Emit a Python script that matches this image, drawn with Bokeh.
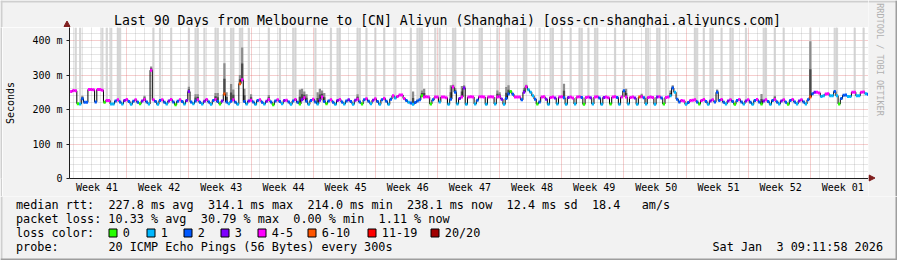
import re
import math
from bokeh.plotting import figure
from bokeh.layouts import column, row
from bokeh.models import ColumnDataSource, Range1d, FixedTicker
from bokeh.core.properties import value
from bokeh.embed import file_html
from bokeh.resources import INLINE

# ---------------- data ----------------
DAYS = 90
BIN_DAYS = 0.25          # 6-hour bins
FIRST_BIN_DAY = 0.2      # centre of first bin, days from left edge

# median RTT (ms), four 6-hour bins per day
median_by_day = [
    [252, 255, 254, 217], [216, 231, 221, 221], [258, 258, 257, 222], [258, 258, 256, 221],
    [226, 226, 216, 216], [225, 228, 222, 216], [226, 229, 223, 215], [224, 228, 221, 217],
    [225, 229, 222, 216], [314, 228, 223, 215], [226, 228, 221, 216], [225, 229, 222, 214],
    [224, 228, 223, 216], [226, 252, 222, 217], [225, 228, 221, 216], [224, 229, 222, 215],
    [226, 229, 223, 216], [225, 245, 222, 217], [224, 228, 221, 215], [275, 286, 223, 216],
    [225, 227, 222, 215], [226, 228, 221, 216], [224, 229, 222, 214], [225, 228, 223, 217],
    [226, 227, 222, 215], [225, 229, 221, 216], [228, 234, 224, 215], [226, 230, 222, 216],
    [227, 236, 223, 217], [225, 228, 221, 215], [226, 229, 222, 216], [225, 228, 223, 215],
    [227, 230, 222, 216], [228, 231, 224, 217], [227, 231, 223, 215], [228, 232, 224, 215],
    [230, 240, 233, 238], [242, 242, 232, 226], [221, 219, 215, 220], [225, 228, 240, 236],
    [237, 236, 216, 228], [236, 236, 222, 236], [236, 234, 215, 230], [265, 250, 216, 232],
    [236, 262, 215, 236], [237, 236, 216, 227], [237, 237, 236, 215], [236, 237, 236, 216],
    [236, 237, 230, 215], [232, 245, 252, 244], [236, 236, 236, 228], [250, 266, 257, 250],
    [240, 230, 216, 222], [236, 237, 230, 215], [235, 236, 233, 216], [236, 237, 234, 215],
    [235, 236, 233, 216], [236, 237, 235, 215], [235, 236, 234, 216], [236, 237, 233, 215],
    [235, 236, 234, 216], [236, 237, 235, 215], [236, 254, 236, 216], [235, 236, 233, 215],
    [236, 237, 234, 216], [235, 236, 235, 215], [236, 237, 233, 216], [235, 236, 240, 262],
    [250, 230, 222, 226], [225, 215, 220, 226], [227, 228, 222, 216], [226, 229, 223, 215],
    [225, 228, 222, 250], [226, 229, 221, 216], [225, 228, 223, 215], [226, 229, 222, 216],
    [225, 228, 221, 215], [226, 229, 222, 216], [225, 228, 223, 215], [226, 229, 222, 216],
    [225, 228, 221, 215], [226, 229, 222, 216], [225, 228, 222, 216], [228, 236, 246, 250],
    [250, 248, 238, 240], [245, 246, 240, 240], [252, 240, 216, 232], [241, 242, 238, 238],
    [250, 250, 240, 240], [250, 251, 246, 244],
]

# lost pings out of 20, same bins
lost_by_day = [
    [4, 4, 4, 0], [1, 2, 2, 2], [4, 4, 4, 2], [4, 4, 4, 0], [4, 4, 1, 1], [2, 4, 2, 1],
    [3, 4, 2, 1], [2, 4, 2, 0], [3, 4, 2, 1], [4, 4, 2, 1], [2, 4, 2, 1], [3, 4, 2, 0],
    [2, 4, 2, 1], [3, 3, 2, 1], [2, 4, 2, 1], [3, 4, 2, 1], [2, 4, 2, 0], [3, 7, 2, 1],
    [2, 4, 2, 1], [7, 4, 2, 1], [3, 4, 2, 1], [2, 4, 2, 1], [3, 4, 2, 0], [2, 4, 2, 1],
    [3, 4, 2, 1], [2, 4, 2, 0], [3, 4, 2, 1], [2, 4, 2, 1], [3, 4, 2, 0], [2, 4, 2, 1],
    [3, 4, 2, 1], [2, 3, 2, 1], [3, 4, 2, 0], [2, 4, 2, 1], [3, 4, 2, 1], [2, 4, 2, 1],
    [2, 4, 1, 4], [4, 4, 4, 2], [1, 2, 1, 2], [2, 2, 0, 4], [4, 4, 0, 2], [4, 4, 1, 4],
    [4, 4, 1, 2], [4, 2, 1, 3], [4, 3, 1, 4], [4, 4, 1, 2], [4, 4, 4, 1], [4, 4, 4, 1],
    [4, 4, 3, 1], [2, 2, 0, 2], [4, 4, 4, 2], [3, 4, 1, 1], [1, 2, 0, 2], [4, 4, 3, 1],
    [4, 4, 3, 1], [4, 4, 2, 1], [3, 4, 4, 1], [4, 4, 2, 0], [4, 4, 3, 1], [4, 4, 2, 1],
    [3, 4, 4, 0], [4, 4, 2, 1], [4, 2, 4, 1], [4, 4, 3, 1], [7, 4, 2, 1], [4, 4, 4, 1],
    [3, 4, 2, 0], [4, 4, 1, 2], [1, 2, 2, 4], [4, 1, 2, 4], [4, 4, 2, 0], [4, 4, 2, 1],
    [3, 4, 2, 2], [2, 4, 2, 1], [3, 4, 2, 0], [2, 4, 2, 1], [3, 4, 2, 1], [2, 4, 2, 0],
    [3, 4, 2, 1], [2, 4, 2, 1], [3, 4, 2, 0], [2, 4, 2, 1], [3, 4, 2, 1], [2, 7, 2, 3],
    [4, 4, 1, 1], [4, 4, 1, 1], [2, 1, 0, 2], [2, 2, 1, 1], [4, 4, 1, 1], [4, 4, 1, 2],
]

# bins whose slowest pings are above the top of the chart (light smoke to the top)
tall_smoke_bins = [2, 4, 14, 16, 18, 21, 22, 37, 40, 45, 53, 56, 57, 60, 65, 66, 69, 72, 73,
                   76, 77, 80, 89, 94, 100, 101, 110, 117, 120, 121, 129, 130, 133, 137, 141,
                   146, 153, 156, 157, 158, 164, 166, 172, 173, 177, 184, 185, 192, 196, 197,
                   204, 205, 211, 216, 217, 221, 225, 229, 230, 233, 236, 237, 245, 249, 259,
                   260, 264, 265, 268, 281, 282, 285, 288, 289, 293, 297, 298, 304, 312, 313,
                   317, 321, 333, 344, 345, 353, 357]

# bins with dense smoke above the median, and the top of that smoke (ms)
smoke_bins = [5, 33, 36, 53, 56, 57, 65, 66, 69, 70, 72, 73, 76, 77, 78, 81, 89, 103, 104, 105,
              106, 111, 112, 113, 114, 129, 154, 158, 159, 171, 172, 173, 176, 177, 192, 193,
              196, 197, 204, 205, 222, 250, 257, 270, 271, 291, 311, 317, 333]
smoke_top_ms = [240, 240, 325, 266, 244, 244, 248, 248, 334, 250, 274, 258, 300, 380, 260, 244,
                242, 258, 260, 252, 244, 250, 260, 255, 248, 244, 252, 255, 260, 270, 272, 262,
                268, 270, 255, 250, 265, 270, 262, 272, 275, 260, 246, 255, 270, 258, 245, 240,
                398]

week_labels = ["Week 41", "Week 42", "Week 43", "Week 44", "Week 45", "Week 46", "Week 47",
               "Week 48", "Week 49", "Week 50", "Week 51", "Week 52", "Week 01"]
FIRST_WEEK_LABEL_DAY = 3.1
FIRST_WEEK_START_DAY = 6.45
FIRST_DAY_LINE = 0.45

y_tick_values = [0, 100, 200, 300, 400]
y_tick_labels = ["0", "100 m", "200 m", "300 m", "400 m"]
Y_TOP = 437.7

loss_class_labels = ["0", "1", "2", "3", "4-5", "6-10", "11-19", "20/20"]
loss_class_upper = [0, 1, 2, 3, 5, 10, 19, 20]
loss_class_colors = ["#26ff00", "#00b8ff", "#0059ff", "#7e00ff", "#ff00ff", "#ff5500",
                     "#ff0000", "#a00000"]

title_text = "Last 90 Days from Melbourne to [CN] Aliyun (Shanghai) [oss-cn-shanghai.aliyuncs.com]"
stats_rows = [
    "median rtt:  227.8 ms avg  314.1 ms max  214.0 ms min  238.1 ms now  12.4 ms sd  18.4   am/s",
    "packet loss: 10.33 % avg  30.79 % max  0.00 % min  1.11 % now",
]
loss_row_head = "loss color:"
probe_row = "probe:       20 ICMP Echo Pings (56 Bytes) every 300s"
stamp_text = "Sat Jan  3 09:11:58 2026"
watermark_text = "RRDTOOL / TOBI OETIKER"

# ---------------- derived ----------------
median_ms = [v for day in median_by_day for v in day]
lost_pings = [v for day in lost_by_day for v in day]
assert len(median_ms) == len(lost_pings) == DAYS * 4
assert len(smoke_bins) == len(smoke_top_ms)


def loss_class(n):
    for k, up in enumerate(loss_class_upper):
        if n <= up:
            return k
    return len(loss_class_upper) - 1


t = [FIRST_BIN_DAY + BIN_DAYS * i for i in range(len(median_ms))]
main = ColumnDataSource(dict(
    t=t,
    x0=[v - BIN_DAYS / 2 for v in t],
    x1=[v + BIN_DAYS / 2 for v in t],
    m=median_ms,
    c=[loss_class_colors[loss_class(n)] for n in lost_pings],
))
tall = ColumnDataSource(dict(
    x=[t[b] for b in tall_smoke_bins],
    bottom=[median_ms[b] for b in tall_smoke_bins],
    top=[Y_TOP for _ in tall_smoke_bins],
))
smoke = ColumnDataSource(dict(
    x=[t[b] for b in smoke_bins],
    bottom=[median_ms[b] for b in smoke_bins],
    top=smoke_top_ms,
    mid=[(median_ms[b] + top) / 2 for b, top in zip(smoke_bins, smoke_top_ms)],
))

week_label_days = [round(FIRST_WEEK_LABEL_DAY + 7 * k, 3) for k in range(len(week_labels))]
week_start_days = [round(FIRST_WEEK_START_DAY + 7 * k, 3) for k in range(12)]
day_line_days = [round(FIRST_DAY_LINE + k, 3) for k in range(DAYS)
                 if round(FIRST_DAY_LINE + k, 3) not in week_start_days]

# ---------------- page layout (pixels) ----------------
W, H = 897, 260
FL, FT, FR, FB = 67, 27, 868, 178     # plot frame edges
XB = 196                              # bottom of the x-axis label band
FONT = "DejaVu Sans Mono"
BG = "#f2f2f2"
SHADE_A, SHADE_B = "#cfcfcf", "#9e9e9e"
ARROW = "#801f1f"
AXIS = "#1f1f1f"


def pixel_fig(x0, x1, y0, y1):
    """A figure whose frame is the whole box, in page pixel coordinates (y down)."""
    f = figure(width=x1 - x0, height=y1 - y0, output_backend="svg", toolbar_location=None,
               x_range=Range1d(x0, x1), y_range=Range1d(y1, y0),
               x_axis_location=None, y_axis_location=None, min_border=0)
    f.xgrid.visible = False
    f.ygrid.visible = False
    f.background_fill_color = BG
    f.border_fill_color = BG
    f.outline_line_color = None
    return f


def texts(f, xs, ys, strs, size, align="left", color="#000000", angle=0.0):
    # y is the visual middle of the text line
    f.text(x=xs, y=ys, text=strs, text_font=value(FONT), text_font_size=value(size),
           text_align=align, text_baseline="middle", text_color=color, angle=angle)


# ---- main chart ----
p = figure(width=FR - 2, height=XB - FT, output_backend="svg", toolbar_location=None,
           x_range=Range1d(0, DAYS), y_range=Range1d(0, Y_TOP),
           min_border_left=FL - 2, min_border_right=0, min_border_top=0,
           min_border_bottom=XB - FB)
p.border_fill_color = BG
p.background_fill_color = "#ffffff"
p.outline_line_color = None

xa = p.xaxis[0]
xa.ticker = FixedTicker(ticks=week_label_days)
xa.major_label_overrides = {d: lab for d, lab in zip(week_label_days, week_labels)}
xa.axis_line_color = AXIS
xa.major_tick_line_color = None
xa.minor_tick_line_color = None
xa.major_tick_out = 0
xa.major_tick_in = 0
xa.major_label_standoff = 3
xa.major_label_text_font = FONT
xa.major_label_text_font_size = "10px"
xa.major_label_text_color = "#000000"

ya = p.yaxis[0]
ya.ticker = FixedTicker(ticks=y_tick_values)
ya.major_label_overrides = {v: lab for v, lab in zip(y_tick_values, y_tick_labels)}
ya.axis_line_color = AXIS
ya.minor_tick_line_color = None
ya.major_tick_line_color = AXIS
ya.major_tick_out = 3
ya.major_tick_in = 0
ya.major_label_standoff = 4
ya.major_label_text_font = FONT
ya.major_label_text_font_size = "10px"
ya.major_label_text_color = "#000000"
ya.axis_label = "Seconds"
ya.axis_label_text_font = FONT
ya.axis_label_text_font_size = "10px"
ya.axis_label_text_font_style = "normal"
ya.axis_label_text_color = "#000000"
ya.axis_label_standoff = 13

p.xgrid.ticker = FixedTicker(ticks=week_start_days, minor_ticks=day_line_days)
p.ygrid.ticker = FixedTicker(ticks=[v for v in y_tick_values if v > 0],
                             minor_ticks=[v for v in range(20, 440, 20) if v % 100])
for g in (p.xgrid[0], p.ygrid[0]):
    g.grid_line_color = "#de4f4f"
    g.grid_line_alpha = 0.55
    g.grid_line_dash = "1 1"
    g.minor_grid_line_color = "#8f8f8f"
    g.minor_grid_line_alpha = 0.45
    g.minor_grid_line_dash = "1 1"

# smoke
p.vbar(x="x", width=BIN_DAYS, bottom="bottom", top="top", source=tall,
       fill_color="#cfcfcf", fill_alpha=0.85, line_color=None)
p.vbar(x="x", width=BIN_DAYS, bottom="bottom", top="top", source=smoke,
       fill_color="#8c8c8c", line_color=None)
p.vbar(x="x", width=BIN_DAYS, bottom="bottom", top="mid", source=smoke,
       fill_color="#4a4a4a", line_color=None)

# median line: black joins + loss-coloured pieces
p.step(x="t", y="m", mode="center", source=main, line_color="#000000", line_width=1)
p.segment(x0="x0", y0="m", x1="x1", y1="m", source=main, line_color="c", line_width=3)

# ---- top band (title, y-axis arrow) ----
top = pixel_fig(0, FR, 0, FT)
top.quad(left=[0, 0], right=[FR, 2], top=[0, 0], bottom=[2, FT], fill_color=SHADE_A,
         line_color=None)
texts(top, [447], [19.6], [title_text], "13.2px", align="center")
top.segment(x0=[FL - 0.5], y0=[FT], x1=[FL - 0.5], y1=[22], line_color=AXIS, line_width=1)
top.patch(x=[FL - 3.5, FL + 2.5, FL - 0.5], y=[26, 26, 20.5], fill_color=ARROW,
          line_color=ARROW)

# ---- thin left strip beside the chart ----
left = pixel_fig(0, 2, FT, XB)
left.background_fill_color = SHADE_A
left.border_fill_color = SHADE_A

# ---- right column (watermark, x-axis arrow) ----
right = pixel_fig(FR, W, 0, XB)
right.quad(left=[FR, W - 2], right=[W, W], top=[0, 0], bottom=[2, XB],
           fill_color=[SHADE_A, SHADE_B], line_color=None)
texts(right, [879], [59], [watermark_text], "8.5px", align="center",
      color="#b0b0b0", angle=-math.pi / 2)
right.segment(x0=[FR], y0=[FB - 0.5], x1=[FR + 2], y1=[FB - 0.5], line_color=AXIS,
              line_width=1)
right.patch(x=[FR + 0.5, FR + 0.5, FR + 6.5], y=[FB - 3.5, FB + 2.5, FB - 0.5],
            fill_color=ARROW, line_color=ARROW)

# ---- bottom band (legend) ----
bottom = pixel_fig(0, W, XB, H)
bottom.quad(left=[0, 0, W - 2], right=[2, W, W], top=[XB, H - 2, XB], bottom=[H, H, H],
            fill_color=[SHADE_A, SHADE_B, SHADE_B], line_color=None)

X0, CW = 15.5, 7.11
ROW_MID = [204.1, 218.3, 232.3, 246.0]
LEG_FS = "11.8px"
cx, cy, cs = [], [], []


def mono_row(text, x_start, py):
    for mt in re.finditer(r"\S+(?: \S+)*", text):
        cx.append(x_start + mt.start() * CW)
        cy.append(py)
        cs.append(mt.group())


mono_row(stats_rows[0], X0, ROW_MID[0])
mono_row(stats_rows[1], X0, ROW_MID[1])
mono_row(loss_row_head, X0, ROW_MID[2])
mono_row(probe_row, X0, ROW_MID[3])
mono_row(stamp_text, 712, ROW_MID[3])

box_px = [108, 146, 183, 220, 257, 307, 367, 430]
for bx, lab in zip(box_px, loss_class_labels):
    cx.append(bx + 14.3)
    cy.append(ROW_MID[2])
    cs.append(lab)
texts(bottom, cx, cy, cs, LEG_FS)
bottom.quad(left=[b + 0.5 for b in box_px], right=[b + 8.5 for b in box_px],
            top=[228.5] * len(box_px), bottom=[236.5] * len(box_px),
            fill_color=loss_class_colors, line_color="#000000", line_width=1)

page = column(row(column(top, row(left, p)), right), bottom)
open("out.html", "w").write(file_html(page, INLINE))
